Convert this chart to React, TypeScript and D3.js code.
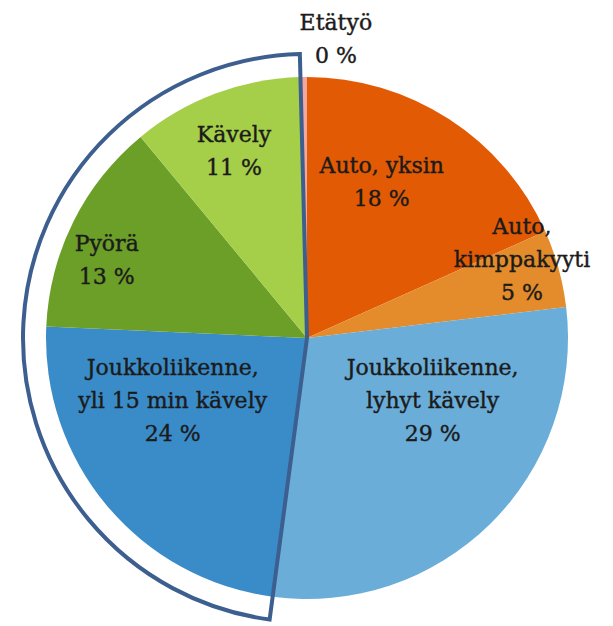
import React from 'react';
import * as d3 from 'd3';

// slices in clockwise order from 12 o'clock
const categories = [
  ['Auto, yksin'],
  ['Auto,', 'kimppakyyti'],
  ['Joukkoliikenne,', 'lyhyt kävely'],
  ['Joukkoliikenne,', 'yli 15 min kävely'],
  ['Pyörä'],
  ['Kävely'],
  ['Etätyö'],
];
const shares = [18.3, 4.8, 29.0, 23.6, 13.3, 10.6, 0.4];
const shownPct = ['18 %', '5 %', '29 %', '24 %', '13 %', '11 %', '0 %'];
const colors = ['#E35A05', '#E48C2B', '#6AADD8', '#3A8CC9', '#6C9F27', '#A5CF49', '#F4A79E'];

// label anchors (degrees clockwise from top, distance from centre)
const labelAngle = [25.6, 69.8, 116.2, 245.2, 291.3, 338.7, 5.5];
const labelDist = [173, 229, 140, 148, 215, 201, 301];

const W = 613;
const H = 626;
const cx = 307;
const cy = 338;
const r = 261;
const lineH = 33;

const App = () => {
  const pie = d3.pie<number>().sort(null).value(d => d);
  const arcs = pie(shares);
  const arc = d3.arc<d3.PieArcDatum<number>>().innerRadius(0).outerRadius(r);

  // highlight frame around the walking / cycling / long-walk slices
  const frame = d3.arc()({
    innerRadius: 0,
    outerRadius: 284,
    startAngle: arcs[3].startAngle,
    endAngle: arcs[5].endAngle,
  }) as string;

  return (
    <svg width={W} height={H} style={{ position: 'absolute', left: 0, top: 0, background: '#fff' }}>
      <g transform={`translate(${cx},${cy})`}>
        {arcs.map((a, i) => (
          <path key={i} d={arc(a) as string} fill={colors[i]} />
        ))}
        <path d={frame} fill="none" stroke="#3D5F8F" strokeWidth={4} strokeLinejoin="miter" />
        {arcs.map((a, i) => {
          const ang = (labelAngle[i] * Math.PI) / 180;
          const x = labelDist[i] * Math.sin(ang);
          const y = -labelDist[i] * Math.cos(ang);
          const lines = [...categories[i], shownPct[i]];
          const n = lines.length;
          return (
            <text
              key={'l' + i}
              x={x}
              y={y}
              textAnchor="middle"
              fontFamily="'DejaVu Serif', serif"
              fontSize={22}
              fill="#1b1b1b"
              stroke="#1b1b1b"
              strokeWidth={0.4}
            >
              {lines.map((t, j) => (
                <tspan key={j} x={x} y={y + (j - (n - 1) / 2) * lineH + 8}>
                  {t}
                </tspan>
              ))}
            </text>
          );
        })}
      </g>
    </svg>
  );
};

export default App;
